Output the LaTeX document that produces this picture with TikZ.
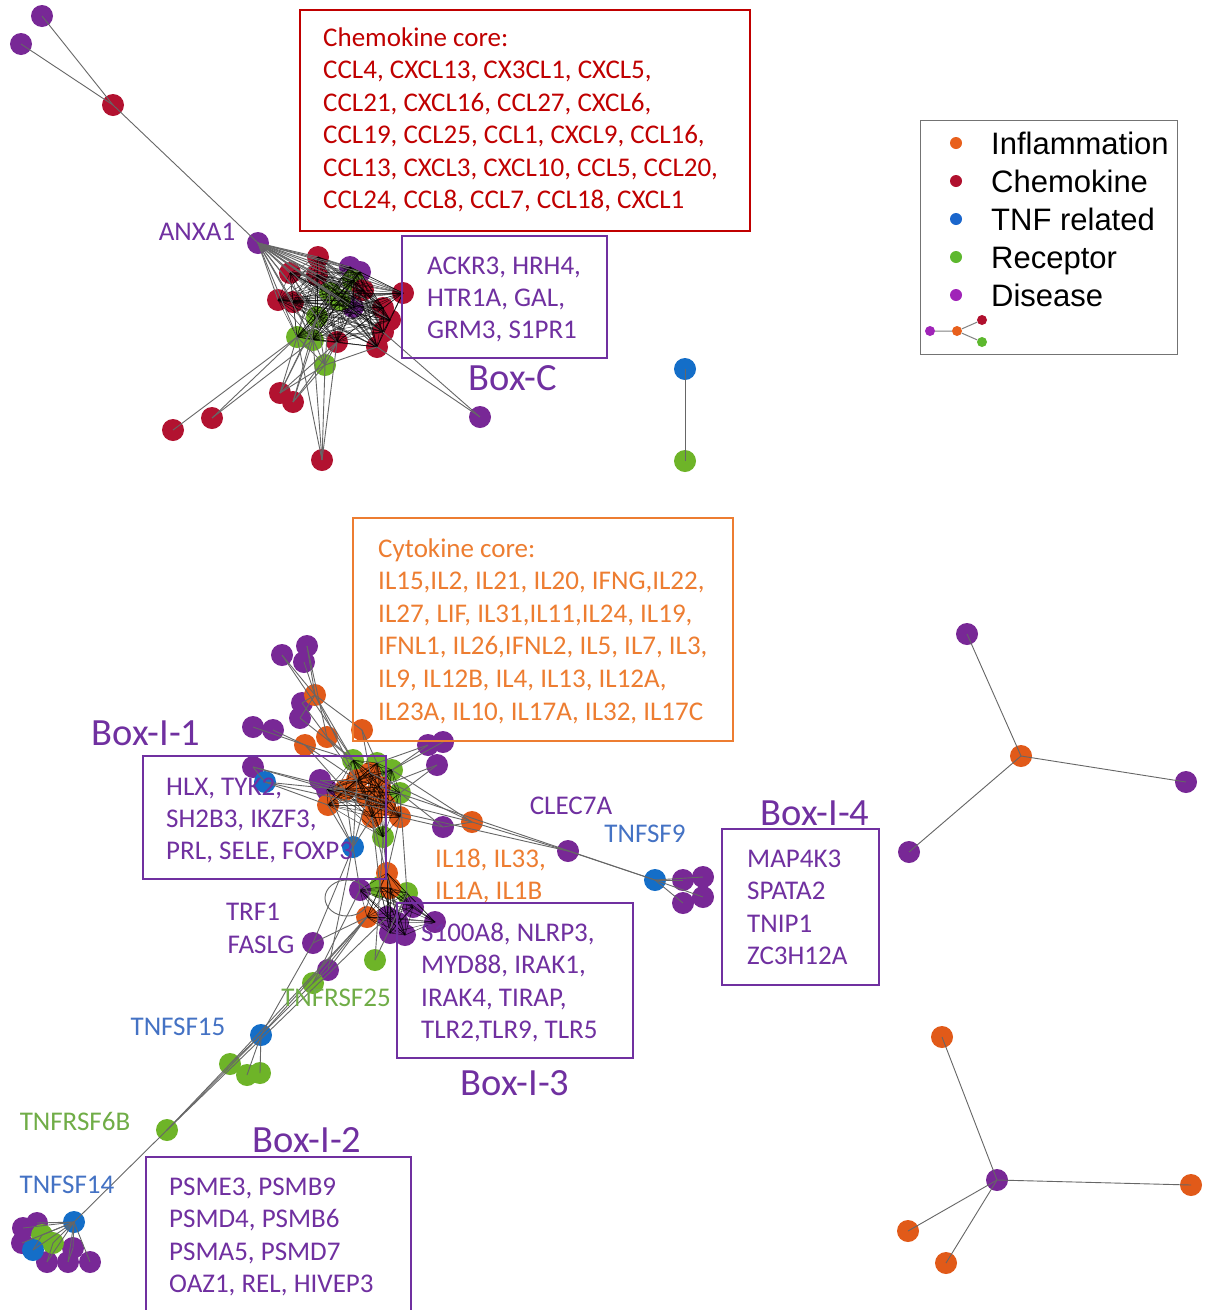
\documentclass[tikz,border=0pt]{standalone}
\usepackage{fontspec}
\setmainfont{Carlito}
\newfontfamily\legendfont{Liberation Sans}
\definecolor{cred}{HTML}{B21230}
\definecolor{corange}{HTML}{E15A19}
\definecolor{cpurple}{HTML}{782896}
\definecolor{cgreen}{HTML}{6EB428}
\definecolor{cblue}{HTML}{146EC8}
\definecolor{tred}{HTML}{C00000}
\definecolor{torange}{HTML}{ED7D31}
\definecolor{tpurple}{HTML}{7030A0}
\definecolor{tgreen}{HTML}{70AD47}
\definecolor{tblue}{HTML}{4472C4}
\definecolor{lorange}{HTML}{E8601C}
\definecolor{lred}{HTML}{B0102E}
\definecolor{lblue}{HTML}{1A66CC}
\definecolor{lgreen}{HTML}{5DB82E}
\definecolor{lpurple}{HTML}{A024B8}
\begin{document}
\begin{tikzpicture}[x=1pt,y=-1pt,
  dot/.style={circle,fill=#1,inner sep=0,minimum size=22},
  nred/.style={dot=cred}, nor/.style={dot=corange}, npur/.style={dot=cpurple},
  ngrn/.style={dot=cgreen}, nblu/.style={dot=cblue},
  edge/.style={draw=black!60, line width=0.9},
  mesh/.style={draw=black, line width=0.5, opacity=0.7},
  txt/.style={anchor=base west, inner sep=0, font=\fontsize{27}{32}\selectfont},
  lab/.style={inner sep=0, font=\fontsize{27}{32}\selectfont},
  boxlab/.style={inner sep=0, font=\fontsize{38.5}{44}\selectfont, text=tpurple},
  frame/.style={line width=2},
  ldot/.style={circle,fill=#1,inner sep=0,minimum size=12},
  mdot/.style={circle,fill=#1,inner sep=0,minimum size=10},
  ltxt/.style={anchor=west, inner sep=0, text height=22, text depth=0, font=\legendfont\fontsize{31}{35}\selectfont}
]
\useasboundingbox (0,0) rectangle (1210,1310);
\fill[white] (0,0) rectangle (1210,1310);

% ================= chemokine cluster =================
\node[npur] (a13) at (350,267) {};
\node[npur] (a14) at (360,272) {};
\node[npur] (a20) at (353,307) {};
\node[ngrn] (a15) at (353,280) {};
\node[ngrn] (a16) at (330,293) {};
\node[ngrn] (a21) at (340,300) {};
\node[ngrn] (a17) at (317,317) {};
\node[ngrn] (a18) at (297,337) {};
\node[ngrn] (a19) at (313,340) {};
\node[ngrn] (a22) at (325,365) {};
\node[nred] (a1) at (318,257) {};
\node[nred] (a2) at (290,273) {};
\node[nred] (a3) at (317,275) {};
\node[nred] (a4) at (278,300) {};
\node[nred] (a5) at (293,302) {};
\node[nred] (a6) at (363,290) {};
\node[nred] (a7) at (403,293) {};
\node[nred] (a8) at (383,308) {};
\node[nred] (a9) at (390,320) {};
\node[nred] (a10) at (383,332) {};
\node[nred] (a11) at (377,347) {};
\node[nred] (a12) at (337,342) {};
\node[npur] (anx) at (258,243) {};
\node[nred] (z1) at (280,393) {};
\node[nred] (z2) at (293,402) {};
\node[nred] (z3) at (212,418) {};
\node[nred] (z4) at (173,430) {};
\node[nred] (z5) at (322,460) {};
\node[npur] (z6) at (480,417) {};
\node[nred] (z7) at (113,105) {};
\node[npur] (z8) at (42,16) {};
\node[npur] (z9) at (21,44) {};

\foreach \i in {1,...,21}{
  \draw[edge] (anx.center) -- (a\i.center);
  \foreach \j in {\i,...,21}{\draw[mesh] (a\i.center) -- (a\j.center);}
}
\foreach \a/\b in {z8/z7,z9/z7,z7/anx,a22/a12,a22/a17,a22/a18,a22/a19,a22/a16,a22/a11,
  z4/a18,z3/a18,z3/a19,z1/a18,z1/a17,z1/a16,z1/a12,z1/a22,z2/a19,z2/a22,z2/a12,z2/a17,
  z5/a22,z5/a19,z5/a12,z5/a18,z6/a11,z6/a10}
  \draw[edge] (\a.center) -- (\b.center);

% pair
\node[nblu] (q1) at (685,369) {};
\node[ngrn] (q2) at (685,461) {};
\draw[edge] (q1.center) -- (q2.center);

% ================= cytokine cluster =================
\node[npur] (u1) at (282,655) {};
\node[npur] (u2) at (307,646) {};
\node[npur] (u3) at (304,662) {};
\node[npur] (u4) at (302,703) {};
\node[npur] (u5) at (300,718) {};
\node[nor] (o1) at (315,695) {};
\node[npur] (u6) at (253,727) {};
\node[npur] (u7) at (273,730) {};
\node[nor] (o2) at (305,745) {};
\node[nor] (k17) at (327,737) {};
\node[nor] (k16) at (362,730) {};
\node[npur] (u8) at (428,745) {};
\node[npur] (u9) at (443,742) {};
\node[npur] (u10) at (437,765) {};
\node[npur] (u11) at (253,767) {};
\node[nblu] (bl1) at (265,782) {};
\node[npur] (u12) at (320,780) {};
\node[npur] (k14) at (327,790) {};
\node[ngrn] (k9) at (353,760) {};
\node[ngrn] (k10) at (377,763) {};
\node[ngrn] (k11) at (392,770) {};
\node[ngrn] (k12) at (400,793) {};
\node[ngrn] (k15) at (383,837) {};
\node[nor] (k1) at (357,780) {};
\node[nor] (k2) at (370,773) {};
\node[nor] (k3) at (367,797) {};
\node[nor] (k4) at (380,787) {};
\node[nor] (k5) at (372,817) {};
\node[nor] (k6) at (400,817) {};
\node[nor] (k7) at (328,805) {};
\node[nor] (k8) at (345,790) {};
\node[nor] (k13) at (385,805) {};
\node[npur] (u14) at (443,827) {};
\node[nor] (o3) at (472,822) {};
\node[npur] (u15) at (568,851) {};
\node[nblu] (bl2) at (655,880) {};
\node[npur] (v1) at (683,880) {};
\node[npur] (v2) at (703,877) {};
\node[npur] (v3) at (683,903) {};
\node[npur] (v4) at (703,897) {};
\node[nblu] (bl3) at (353,847) {};
% lower sub-cluster
\node[ngrn] (m3) at (407,893) {};
\node[ngrn] (m4) at (380,887) {};
\node[npur] (m5) at (360,890) {};
\node[npur] (m7) at (387,917) {};
\node[npur] (m8) at (398,923) {};
\node[npur] (m9) at (413,907) {};
\node[npur] (m10) at (390,933) {};
\node[npur] (m11) at (435,922) {};
\node[npur] (m12) at (405,935) {};
\node[nor] (m1) at (387,873) {};
\node[nor] (m2) at (390,888) {};
\node[nor] (m6) at (367,917) {};
% chain
\node[npur] (fas) at (313,943) {};
\node[npur] (w1) at (328,970) {};
\node[ngrn] (w2) at (375,960) {};
\node[ngrn] (w3) at (313,983) {};
\node[nblu] (bl4) at (261,1035) {};
\node[ngrn] (g7) at (230,1064) {};
\node[ngrn] (g8) at (247,1075) {};
\node[ngrn] (g9) at (260,1073) {};
\node[ngrn] (g10) at (167,1130) {};
% bottom-left
\node[npur] (d1) at (23,1228) {};
\node[npur] (d2) at (37,1223) {};
\node[npur] (d3) at (22,1243) {};
\node[npur] (d4) at (47,1262) {};
\node[npur] (d5) at (68,1262) {};
\node[npur] (d6) at (90,1262) {};
\node[npur] (d7) at (73,1248) {};
\node[ngrn] (d8) at (42,1235) {};
\node[ngrn] (d9) at (53,1243) {};
\node[nblu] (d10) at (33,1250) {};
\node[nblu] (bd) at (74,1222) {};

\foreach \i in {1,...,15}{
  \foreach \j in {\i,...,15}{\draw[mesh] (k\i.center) -- (k\j.center);}
}
\foreach \i in {1,...,12}{
  \foreach \j in {\i,...,12}{\draw[mesh] (m\i.center) -- (m\j.center);}
}
\foreach \a/\b in {u1/o1,u2/o1,u3/o1,u2/k17,u1/k9,o1/k16,o1/k9,o1/u4,o1/u5,o1/k1,u4/k17,u5/k9,
  u6/o2,u7/o2,o2/k8,o2/k1,o2/k9,k17/k9,k17/k1,k16/k10,k16/k2,u8/k11,u9/k11,u10/k12,u8/k10,u10/k4,
  u11/bl1,bl1/k7,u11/k13,bl1/k8,u12/k1,u12/k8,k2/o3,k11/o3,u11/o3,o3/u15,bl1/u15,u15/bl2,k12/u14,
  u14/o3,k6/u14,k4/bl2,bl2/v1,bl2/v2,bl2/v3,bl2/v4,bl3/k7,bl3/k3,bl3/k5,bl3/k8,bl3/k1,bl3/k14,
  bl3/fas,bl3/m5,bl3/w1,k15/m1,k15/m4,k6/m1,k5/m4,k12/m3,k5/m2,m6/fas,m6/w1,m6/w3,m6/bl4,m5/w3,
  m4/w2,m3/w2,fas/bl4,w1/w3,w3/bl4,bl4/g7,bl4/g8,bl4/g9,g7/g10,bl4/g10,g10/bd,m7/g10,m6/g7,
  bd/d1,bd/d2,bd/d3,bd/d4,bd/d5,bd/d6,bd/d7,bd/d8,bd/d9,bd/d10,d8/d10,d9/d4,d7/d5}
  \draw[edge] (\a.center) -- (\b.center);
\draw[edge] (347,898) ellipse [x radius=22, y radius=18];

% ================= right stars =================
\node[npur] (s1a) at (967,634) {};
\node[npur] (s1b) at (1186,782) {};
\node[npur] (s1c) at (909,852) {};
\node[nor] (s1) at (1021,756) {};
\node[nor] (s2a) at (942,1037) {};
\node[nor] (s2b) at (1191,1185) {};
\node[nor] (s2c) at (908,1231) {};
\node[nor] (s2d) at (946,1263) {};
\node[npur] (s2) at (997,1180) {};
\foreach \b in {s1a,s1b,s1c} \draw[edge] (s1.center) -- (\b.center);
\foreach \b in {s2a,s2b,s2c,s2d} \draw[edge] (s2.center) -- (\b.center);

% ================= boxes and texts =================
\draw[frame, tred] (300,10) rectangle (750,231);
\foreach \t [count=\i from 0] in {{Chemokine core:},{CCL4, CXCL13, CX3CL1, CXCL5,},{CCL21, CXCL16, CCL27, CXCL6,},
  {CCL19, CCL25, CCL1, CXCL9, CCL16,},{CCL13, CXCL3, CXCL10, CCL5, CCL20,},{CCL24, CCL8, CCL7, CCL18, CXCL1}}
  \node[txt, text=tred] (chem\i) at (323,{46.5+32.4*\i}) {\t};

\draw[frame, tpurple] (402,236) rectangle (607,358);
\foreach \t [count=\i from 0] in {{ACKR3, HRH4,},{HTR1A, GAL,},{GRM3, S1PR1}}
  \node[txt, text=tpurple] (bc\i) at (427,{274+32*\i}) {\t};
\node[boxlab] (boxC) at (513,378) {Box-C};

\draw[frame, torange] (353,518) rectangle (733,741);
\foreach \t [count=\i from 0] in {{Cytokine core:},{IL15,IL2, IL21, IL20, IFNG,IL22,},{IL27, LIF, IL31,IL11,IL24, IL19,},
  {IFNL1, IL26,IFNL2, IL5, IL7, IL3,},{IL9, IL12B, IL4, IL13, IL12A,},{IL23A, IL10, IL17A, IL32, IL17C}}
  \node[txt, text=torange] (cyt\i) at (378,{557+32.6*\i}) {\t};

\draw[frame, tpurple] (143,756) rectangle (386,879);
\foreach \t [count=\i from 0] in {{HLX, TYK2,},{SH2B3, IKZF3,},{PRL, SELE, FOXP3}}
  \node[txt, text=tpurple] (bi1\i) at (166,{795+32*\i}) {\t};
\node[boxlab] (boxI1) at (146,733) {Box-I-1};

\foreach \t [count=\i from 0] in {{IL18, IL33,},{IL1A, IL1B}}
  \node[txt, text=torange] (il\i) at (435,{867+32*\i}) {\t};

\draw[frame, tpurple] (397,903) rectangle (633,1058);
\foreach \t [count=\i from 0] in {{S100A8, NLRP3,},{MYD88, IRAK1,},{IRAK4, TIRAP,},{TLR2,TLR9, TLR5}}
  \node[txt, text=tpurple] (bi3\i) at (421,{941+32.6*\i}) {\t};
\node[boxlab] (boxI3) at (515,1083) {Box-I-3};

\draw[frame, tpurple] (722,829) rectangle (879,985);
\foreach \t [count=\i from 0] in {MAP4K3,SPATA2,TNIP1,ZC3H12A}
  \node[txt, text=tpurple] (bi4\i) at (747,{867+32.6*\i}) {\t};
\node[boxlab] (boxI4) at (815,813) {Box-I-4};

\draw[frame, tpurple] (146,1312) -- (146,1157) -- (411,1157) -- (411,1312);
\foreach \t [count=\i from 0] in {{PSME3, PSMB9},{PSMD4, PSMB6},{PSMA5, PSMD7},{OAZ1, REL, HIVEP3}}
  \node[txt, text=tpurple] (bi2\i) at (169,{1195+32.6*\i}) {\t};
\node[boxlab] (boxI2) at (307,1140) {Box-I-2};

% single labels
\node[lab, text=tpurple] (lANXA1) at (197,232) {ANXA1};
\node[lab, text=tpurple] (lCLEC) at (571,806) {CLEC7A};
\node[lab, text=tblue] (lTNFSF9) at (645,834) {TNFSF9};
\node[lab, text=tpurple] (lTRF1) at (253,912) {TRF1};
\node[lab, text=tpurple] (lFASLG) at (261,945) {FASLG};
\node[lab, text=tgreen] (lTNFRSF25) at (336,998) {TNFRSF25};
\node[lab, text=tblue] (lTNFSF15) at (178,1027) {TNFSF15};
\node[lab, text=tgreen] (lTNFRSF6B) at (75,1121) {TNFRSF6B};
\node[lab, text=tblue] (lTNFSF14) at (67,1185) {TNFSF14};

% ================= legend =================
\draw[draw=black!55, line width=1] (920,120) rectangle (1177,354);
\foreach \c/\t [count=\i from 0] in {lorange/Inflammation,lred/Chemokine,lblue/TNF related,lgreen/Receptor,lpurple/Disease}{
  \node[ldot=\c] (ld\i) at (956,{143+38*\i}) {};
  \node[ltxt] (lt\i) at (991,{143+38*\i}) {\t};
}
\node[mdot=lpurple] (mg1) at (930,331) {};
\node[mdot=lorange] (mg2) at (957,331) {};
\node[mdot=lred] (mg3) at (982,320) {};
\node[mdot=lgreen] (mg4) at (982,342) {};
\draw[draw=black!50, line width=1] (mg1) -- (mg2) (mg2) -- (mg3) (mg2) -- (mg4);
\end{tikzpicture}
\end{document}
